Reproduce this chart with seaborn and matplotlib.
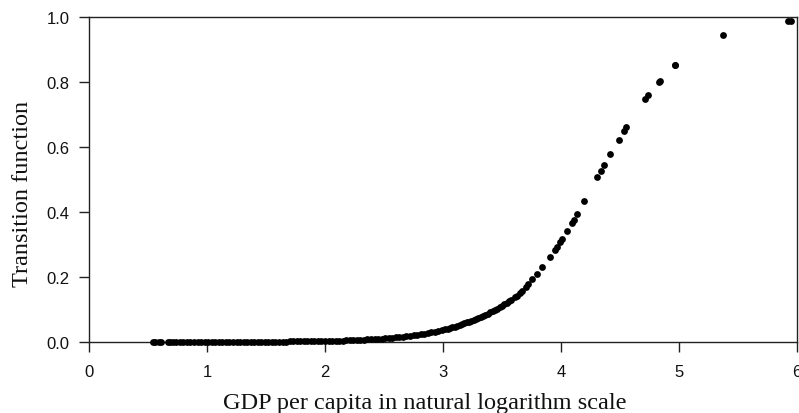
import matplotlib
matplotlib.use("Agg")
import matplotlib.pyplot as plt
import seaborn as sns
import pandas as pd

# --- data ---
gdp_log = [
    0.54, 0.56, 0.59, 0.61, 0.67, 0.69, 0.71,
    0.74, 0.77, 0.80, 0.83, 0.86, 0.89, 0.92, 0.95, 0.98, 1.01, 1.04, 1.07,
    1.10, 1.13, 1.16, 1.19, 1.22, 1.25, 1.28, 1.31, 1.34, 1.37, 1.40, 1.43,
    1.46, 1.49, 1.52, 1.55, 1.58, 1.61, 1.64, 1.67, 1.70, 1.73, 1.76, 1.79,
    1.82, 1.85, 1.88, 1.91, 1.94, 1.97, 2.00,
    2.03, 2.06, 2.09, 2.12, 2.15, 2.18, 2.21, 2.24, 2.27, 2.30, 2.33, 2.36,
    2.39, 2.42, 2.45, 2.48, 2.51, 2.54, 2.57, 2.60, 2.63, 2.66, 2.69, 2.72,
    2.75, 2.78, 2.81, 2.84, 2.87, 2.90, 2.93, 2.96, 2.99,
    3.02, 3.04, 3.06, 3.08, 3.10, 3.12, 3.14, 3.16, 3.18, 3.20, 3.22, 3.24,
    3.26, 3.28, 3.30, 3.32, 3.34, 3.36, 3.38, 3.40, 3.42, 3.44, 3.46, 3.48,
    3.50, 3.52, 3.54, 3.56, 3.58,
    3.61, 3.63, 3.65, 3.67, 3.70, 3.72,
    3.754, 3.794, 3.842, 3.909, 3.952, 3.969, 3.992, 4.008, 4.053, 4.096,
    4.110, 4.138, 4.197, 4.308, 4.339, 4.367, 4.418, 4.492, 4.536, 4.553,
    4.714, 4.740, 4.828, 4.835, 4.964, 4.970, 5.375, 5.920, 5.950,
]
transition = [
    0.000, 0.000, 0.000, 0.000, 0.000, 0.000, 0.000,
    0.000, 0.000, 0.000, 0.000, 0.000, 0.000, 0.000, 0.000, 0.000, 0.000, 0.000, 0.000,
    0.000, 0.000, 0.000, 0.000, 0.001, 0.001, 0.001, 0.001, 0.001, 0.001, 0.001, 0.001,
    0.001, 0.001, 0.001, 0.001, 0.001, 0.001, 0.001, 0.001, 0.002, 0.002, 0.002, 0.002,
    0.002, 0.002, 0.002, 0.003, 0.003, 0.003, 0.003,
    0.0034, 0.0037, 0.0040, 0.0043, 0.0046, 0.0050, 0.0054, 0.0058, 0.0063, 0.0067, 0.0073, 0.0078,
    0.0084, 0.0091, 0.0098, 0.0105, 0.0113, 0.0121, 0.0131, 0.0141, 0.0152, 0.0163, 0.0176, 0.0189,
    0.0204, 0.0219, 0.0235, 0.0253, 0.0272, 0.0293, 0.0315, 0.0339, 0.0364,
    0.0392, 0.0411, 0.0431, 0.0452, 0.0474, 0.0497, 0.0521, 0.0547, 0.0573, 0.0601, 0.0628, 0.0655,
    0.0683, 0.0711, 0.0740, 0.0770, 0.0805, 0.0840, 0.0875, 0.0912, 0.0950, 0.0990, 0.1030, 0.1072,
    0.1115, 0.1160, 0.1205, 0.1252, 0.1300,
    0.137, 0.143, 0.150, 0.157, 0.168, 0.180,
    0.1948, 0.2083, 0.2298, 0.2615, 0.2831, 0.2932, 0.3068, 0.3169, 0.3415, 0.3671,
    0.3754, 0.3938, 0.4330, 0.5068, 0.5271, 0.5446, 0.5775, 0.6225, 0.6492, 0.6606,
    0.7486, 0.7612, 0.7990, 0.8030, 0.8510, 0.8530, 0.9446, 0.9880, 0.9880,
]
x_ticks = [0, 1, 2, 3, 4, 5, 6]
y_ticks = [0.0, 0.2, 0.4, 0.6, 0.8, 1.0]
x_label = "GDP per capita in natural logarithm scale"
y_label = "Transition function"

df = pd.DataFrame({"gdp": gdp_log, "G": transition})

sns.set_style("ticks")
plt.rcParams["font.family"] = ["Liberation Sans", "DejaVu Sans"]

fig = plt.figure(figsize=(7.99, 4.14), dpi=100)
ax = fig.add_axes([89 / 799, 1 - 343 / 414, 708 / 799, 325 / 414])

sns.scatterplot(data=df, x="gdp", y="G", color="black", s=24, linewidth=0,
                ax=ax, clip_on=False, zorder=3)

ax.set_xlim(0, 6)
ax.set_ylim(0, 1)
ax.set_xticks(x_ticks)
ax.set_xticklabels([str(t) for t in x_ticks])
ax.set_yticks(y_ticks)
ax.set_yticklabels([f"{t:.1f}" for t in y_ticks])

for s in ax.spines.values():
    s.set_visible(True)
    s.set_linewidth(1.0)
    s.set_color("#222222")

ax.tick_params(axis="both", direction="out", length=7, width=1.0,
               color="#222222", labelsize=12, labelcolor="#111111")
ax.tick_params(axis="x", pad=8.5)
ax.tick_params(axis="y", pad=7)

serif = ["Liberation Serif", "DejaVu Serif"]
ax.set_xlabel(x_label, fontsize=17.5, family=serif, color="#111111")
ax.set_ylabel(y_label, fontsize=17.5, family=serif, color="#111111")
ax.xaxis.set_label_coords(0.4746, -0.153)
ax.yaxis.set_label_coords(-0.079, 0.46)

fig.savefig("out.png", dpi=100)
